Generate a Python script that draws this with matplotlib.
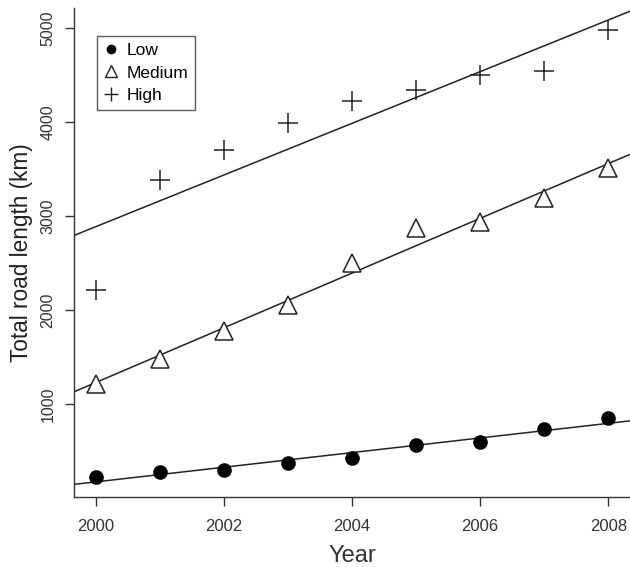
import numpy as np
import matplotlib
matplotlib.use("Agg")
import matplotlib.pyplot as plt

plt.rcParams['font.family'] = ['Liberation Sans', 'DejaVu Sans']

years = [2000, 2001, 2002, 2003, 2004, 2005, 2006, 2007, 2008]
low = [223, 277, 298, 372, 426, 564, 596, 734, 851]
medium = [1213, 1479, 1777, 2053, 2500, 2872, 2936, 3191, 3511]
high = [2213, 3383, 3702, 3989, 4223, 4340, 4500, 4543, 4979]
series_names = ["Low", "Medium", "High"]
xticks = [2000, 2002, 2004, 2006, 2008]
yticks = [1000, 2000, 3000, 4000, 5000]

fig = plt.figure(figsize=(6.3, 5.67), dpi=100)
ax = fig.add_axes([74/630, 70/567, 1 - 74/630, (497-8)/567])
xlim = (1999.66, 2008.34)
ax.set_xlim(*xlim)
ax.set_ylim(10, 5213)

col = '#222222'
x = np.array(years, dtype=float)
xx = np.array(xlim)
styles = [dict(marker='o', ms=9.5, mfc='black', mec='black', mew=1.0),
          dict(marker='^', ms=13, mfc='white', mec=col, mew=1.1),
          dict(marker='+', ms=14, mfc='none', mec=col, mew=1.1)]
for name, vals, st in zip(series_names, [low, medium, high], styles):
    y = np.array(vals, dtype=float)
    b, a = np.polyfit(x, y, 1)
    ax.plot(xx, a + b * xx, color=col, lw=1.1, zorder=2)
    ax.plot(x, y, ls='none', zorder=3, **st)

for s in ['top', 'right']:
    ax.spines[s].set_visible(False)
for s in ['left', 'bottom']:
    ax.spines[s].set_color('#333333')
    ax.spines[s].set_linewidth(1.0)

ax.set_xticks(xticks)
ax.set_xticklabels([str(v) for v in xticks])
ax.set_yticks(yticks)
ax.set_yticklabels([str(v) for v in yticks], rotation=90, va='center')
ax.tick_params(axis='both', direction='out', length=6.5, width=1.0, color='#333333',
               labelcolor='#333333')
ax.tick_params(axis='x', labelsize=12, pad=9)
ax.tick_params(axis='y', labelsize=11.5, pad=7)
ax.set_xlabel("Year", fontsize=17, color='#333333', labelpad=8)
ax.set_ylabel("Total road length (km)", fontsize=16.3, color='#222222', labelpad=5)

leg_handles = [
    plt.Line2D([], [], ls='none', marker='o', ms=6, mfc='black', mec='black'),
    plt.Line2D([], [], ls='none', marker='^', ms=8, mfc='white', mec=col, mew=1.0),
    plt.Line2D([], [], ls='none', marker='+', ms=10, mec=col, mew=1.0),
]
leg = ax.legend(leg_handles, series_names, loc='upper left',
                bbox_to_anchor=((97-74)/556, (497-36)/489), fontsize=12.5,
                frameon=True, fancybox=False, edgecolor='#333333',
                handlelength=0.8, handletextpad=0.5, borderpad=0.4,
                labelspacing=0.42, borderaxespad=0)
leg.get_frame().set_linewidth(1.0)

fig.savefig("out.png", dpi=100)
